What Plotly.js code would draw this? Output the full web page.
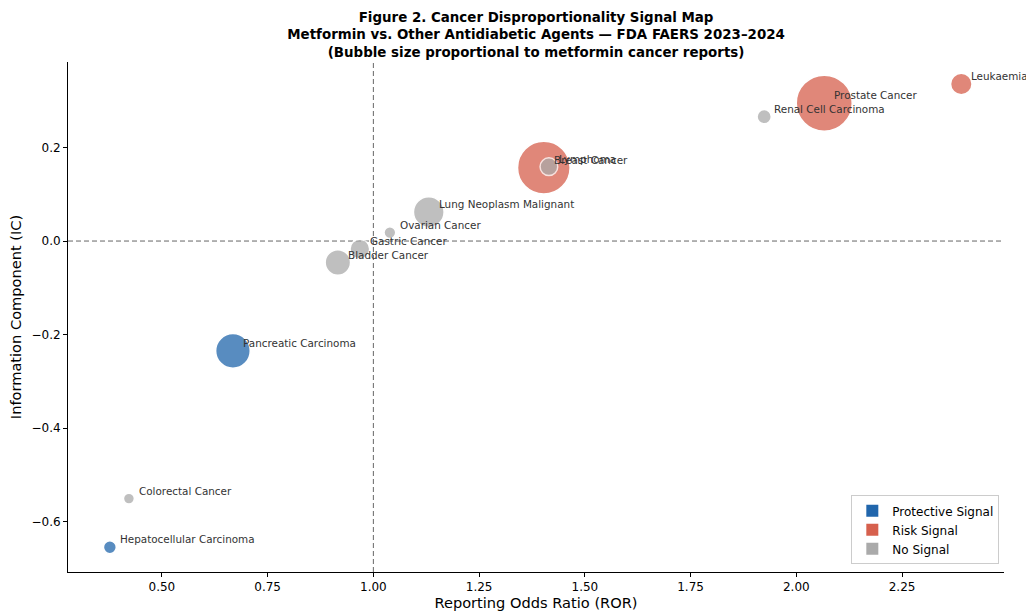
<!DOCTYPE html>
<html>
<head>
<meta charset="utf-8">
<script src="https://cdn.plot.ly/plotly-3.0.1.min.js"></script>
<style>html,body{margin:0;padding:0;background:#fff;}#chart{width:1026px;height:611px;}</style>
</head>
<body>
<div id="chart"></div>
<script>
// Data
const cancers = ["Hepatocellular Carcinoma","Pancreatic Carcinoma","Breast Cancer","Prostate Cancer","Leukaemia","Colorectal Cancer","Bladder Cancer","Gastric Cancer","Ovarian Cancer","Lung Neoplasm Malignant","Lymphoma","Renal Cell Carcinoma"];
const ror = [0.377, 0.668, 1.403, 2.066, 2.390, 0.422, 0.916, 0.968, 1.039, 1.131, 1.415, 1.924];
const ic = [-0.655, -0.235, 0.157, 0.295, 0.336, -0.551, -0.046, -0.017, 0.018, 0.062, 0.159, 0.266];
const reports = [18, 130, 300, 340, 50, 13, 70, 42, 15, 102, 34, 22];
const signal = ["Protective Signal","Protective Signal","Risk Signal","Risk Signal","Risk Signal","No Signal","No Signal","No Signal","No Signal","No Signal","No Signal","No Signal"];
const signalTypes = ["Protective Signal","Risk Signal","No Signal"];
const signalColors = {"Protective Signal":"#2166ac","Risk Signal":"#d6604d","No Signal":"#aaaaaa"};
const xTicks = [0.5,0.75,1.0,1.25,1.5,1.75,2.0,2.25];
const yTicks = [-0.6,-0.4,-0.2,0.0,0.2];

const maxRep = Math.max(...reports);
const sizeref = 2*maxRep/(56*56);
const font = "DejaVu Sans, sans-serif";

const traces = [];
signalTypes.forEach(s => {
  const idx = cancers.map((c,i)=>i).filter(i => signal[i]===s);
  traces.push({
    type:"scatter", mode:"markers", showlegend:false,
    x: idx.map(i=>ror[i]), y: idx.map(i=>ic[i]),
    text: idx.map(i=>cancers[i]),
    marker:{size: idx.map(i=>reports[i]), sizemode:"area", sizeref:sizeref,
      color: signalColors[s], opacity:0.75, line:{color:"#ffffff", width:1.5}},
    hoverinfo:"text"
  });
});
signalTypes.forEach(s => {
  traces.push({type:"scatter", mode:"markers", x:[null], y:[null], name:s, showlegend:true,
    marker:{symbol:"square", size:12, color:signalColors[s]}});
});

const annotations = cancers.map((c,i)=>({
  x: ror[i], y: ic[i], xref:"x", yref:"y", text:c, showarrow:false,
  xanchor:"left", yanchor:"middle", xshift:8, yshift:8,
  font:{family:font, size:10.4, color:"#333333"}
}));

const layout = {
  width:1026, height:611,
  paper_bgcolor:"#ffffff", plot_bgcolor:"#ffffff",
  margin:{l:68, r:22, t:62, b:39},
  font:{family:font, size:12, color:"#000"},
  title:{text:"<b>Figure 2. Cancer Disproportionality Signal Map<br>Metformin vs. Other Antidiabetic Agents — FDA FAERS 2023–2024<br>(Bubble size proportional to metformin cancer reports)</b>",
    x:0.5225, xanchor:"center", y:0.964, yanchor:"top", font:{family:font, size:13.4, color:"#000"}},
  xaxis:{range:[0.278,2.491], tickvals:xTicks, tickformat:".2f", showgrid:false, zeroline:false,
    showline:true, linecolor:"#000", linewidth:1, ticks:"outside", ticklen:4, tickcolor:"#000",
    tickfont:{family:font, size:12},
    title:{text:"Reporting Odds Ratio (ROR)", font:{family:font, size:14.6}, standoff:6}},
  yaxis:{range:[-0.708,0.383], tickvals:yTicks, tickformat:".1f", showgrid:false, zeroline:false,
    showline:true, linecolor:"#000", linewidth:1, ticks:"outside", ticklen:4, tickcolor:"#000",
    tickfont:{family:font, size:12},
    title:{text:"Information Component (IC)", font:{family:font, size:14.6}, standoff:6}},
  shapes:[
    {type:"line", xref:"x", yref:"paper", x0:1, x1:1, y0:0, y1:1, line:{color:"#666", width:1, dash:"5px,3px"}, layer:"below"},
    {type:"line", xref:"paper", yref:"y", x0:0, x1:1, y0:0, y1:0, line:{color:"#666", width:1, dash:"5px,3px"}, layer:"below"}
  ],
  legend:{x:0.995, xanchor:"right", y:0.015, yanchor:"bottom", bgcolor:"rgba(255,255,255,0.9)",
    bordercolor:"#cccccc", borderwidth:1, font:{family:font, size:12}, tracegroupgap:0},
  annotations:annotations,
  hovermode:"closest"
};

Plotly.newPlot("chart", traces, layout, {displayModeBar:false, staticPlot:true});
</script>
</body>
</html>
